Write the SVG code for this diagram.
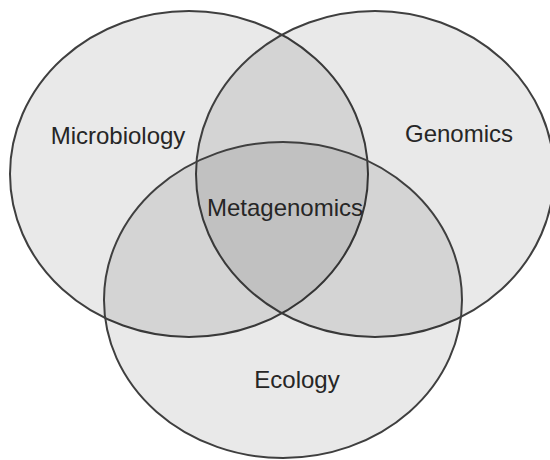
<svg xmlns="http://www.w3.org/2000/svg" width="550" height="460" viewBox="0 0 550 460">
  <style>
    .set { fill: #000000; fill-opacity: 0.085; stroke: #3f3f3f; stroke-width: 2; }
    .label { font-family: "Liberation Sans", Arial, sans-serif; font-size: 24px; fill: #262626; text-anchor: middle; }
  </style>
  <rect x="0" y="0" width="550" height="460" fill="#ffffff"/>
  <g id="microbiology">
    <ellipse class="set" cx="189" cy="174" rx="179" ry="163"/>
  </g>
  <g id="genomics">
    <ellipse class="set" cx="375" cy="174" rx="179" ry="163"/>
  </g>
  <g id="ecology">
    <ellipse class="set" cx="283" cy="300" rx="179" ry="158"/>
  </g>
  <g id="labels">
    <text class="label" x="118" y="144">Microbiology</text>
    <text class="label" x="459" y="142">Genomics</text>
    <text class="label" x="285" y="216">Metagenomics</text>
    <text class="label" x="297" y="388">Ecology</text>
  </g>
  <g id="connectors"/>
</svg>
